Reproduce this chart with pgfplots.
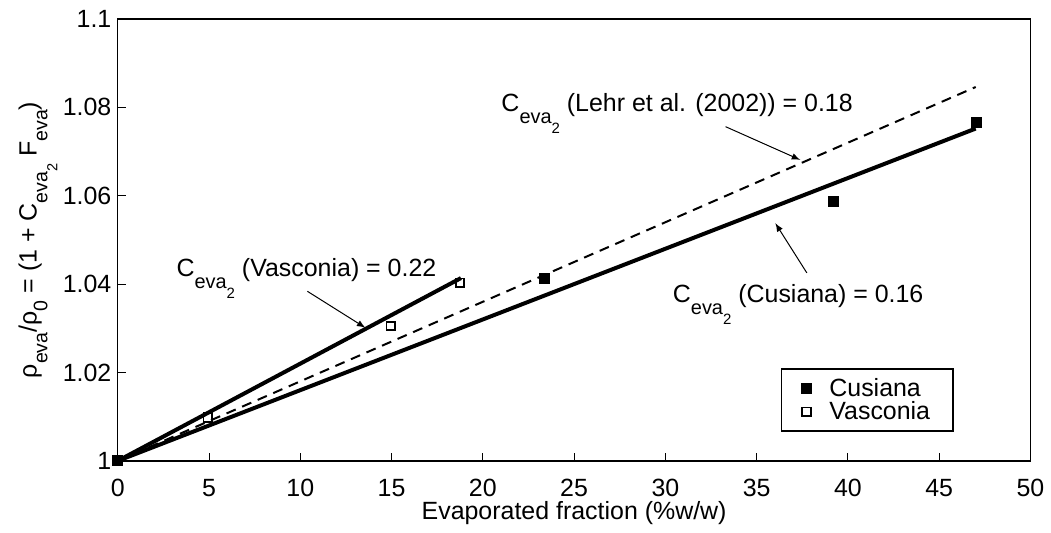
\documentclass[border=0pt]{standalone}
\usepackage{pgfplots}
\pgfplotsset{compat=1.18}
\usepackage{fontspec}
\setmainfont{Liberation Sans}
\newcommand{\sub}[1]{\raisebox{-5.8pt}{\fontsize{10}{10}\selectfont #1}}
\newcommand{\subb}[1]{\raisebox{-5.3pt}{\fontsize{7.5}{7.5}\selectfont #1}}
\newcommand{\lsub}[1]{\raisebox{-5.5pt}{\fontsize{9.8}{9.8}\selectfont #1}}
\newcommand{\lsubb}[1]{\raisebox{-5pt}{\fontsize{7.3}{7.3}\selectfont #1}}
\begin{document}
\begin{tikzpicture}
\begin{axis}[
  scale only axis,
  width=457.5pt, height=221.5pt,
  xmin=0, xmax=50, ymin=1, ymax=1.1,
  xtick={0,5,...,50},
  ytick={1,1.02,1.04,1.06,1.08,1.1},
  yticklabels={1,1.02,1.04,1.06,1.08,1.1},
  tick align=inside, tick pos=left,
  major tick length=4pt,
  tick style={black, line width=0.5pt},
  axis line style={line width=0.75pt},
  /pgf/number format/assume math mode=true,
  ticklabel style={font=\fontsize{12.5}{14}\selectfont},
  xticklabel style={anchor=base, inner ysep=0pt, yshift=-18pt},
  yticklabel style={anchor=east, inner xsep=0pt, xshift=-3pt},
  xlabel={Evaporated fraction (\%w/w)},
  ylabel={ρ\lsub{eva}/ρ\lsub{0} = (1 + C\lsub{eva\lsubb{2}} F\lsub{eva})},
  label style={font=\fontsize{12.5}{14}\selectfont},
  xlabel style={at={(axis description cs:0.5,0)}, anchor=base, inner ysep=0pt, yshift=-29.5pt},
  ylabel style={at={(axis description cs:-0.089,0.5)}, anchor=base},
  clip=false,
  legend style={at={(rel axis cs:0.916,0.0655)}, anchor=south east, draw=black, line width=0.75pt,
    font=\fontsize{12.5}{14}\selectfont, inner xsep=0pt, inner ysep=4pt, row sep=0pt,
    nodes={inner ysep=0.5pt, inner xsep=0pt}, column sep=0pt},
  legend image code/.code={\path[draw=none,fill=none] (0pt,0pt) -- (24pt,0pt); \draw[#1] plot coordinates {(12.5pt,0pt)};},
  legend cell align=left,
]
% fitted lines (not in legend)
\addplot[black, line width=2pt, forget plot] coordinates {(0,1) (18.8,1.04136)};
\addplot[black, line width=2pt, forget plot] coordinates {(0,1) (47,1.0752)};
\addplot[black, line width=1pt, dash pattern=on 5pt off 3.5pt, forget plot] coordinates {(0,1) (47,1.0846)};
% data
\addplot[only marks, mark=square*, mark size=2.5pt, black] coordinates {
 (0,1) (23.39,1.0414) (39.21,1.0587) (47.03,1.0767)};
\addlegendentry{Cusiana\hspace*{11.5pt}\null}
\addplot[only marks, mark=square, mark size=2.1pt, black, line width=0.9pt, mark options={fill=white}] coordinates {
 (0,1) (4.93,1.0098) (14.95,1.0305) (18.75,1.0403)};
\addlegendentry{Vasconia\hspace*{11.5pt}\null}
% annotations
\node[anchor=base west, font=\fontsize{12.5}{14}\selectfont, inner sep=0pt] at (axis cs:3.2,1.04168) {C\sub{eva\subb{2}} (Vasconia) = 0.22};
\draw[-latex, line width=0.5pt] (axis cs:10.39,1.03837) -- (axis cs:13.57,1.03011);
\node[anchor=base west, font=\fontsize{12.5}{14}\selectfont, inner sep=0pt] at (axis cs:21.0,1.0790) {C\sub{eva\subb{2}} (Lehr et al. (2002)) = 0.18};
\draw[-latex, line width=0.5pt] (axis cs:33.30,1.07562) -- (axis cs:37.39,1.06810);
\node[anchor=base west, font=\fontsize{12.5}{14}\selectfont, inner sep=0pt] at (axis cs:30.39,1.03582) {C\sub{eva\subb{2}} (Cusiana) = 0.16};
\draw[-latex, line width=0.5pt] (axis cs:37.75,1.04253) -- (axis cs:36.02,1.05381);
% bounding box matching reference proportions
\path (rel axis cs:-0.129,-0.1625) rectangle (rel axis cs:1.0197,1.0429);
\end{axis}
\end{tikzpicture}
\end{document}
